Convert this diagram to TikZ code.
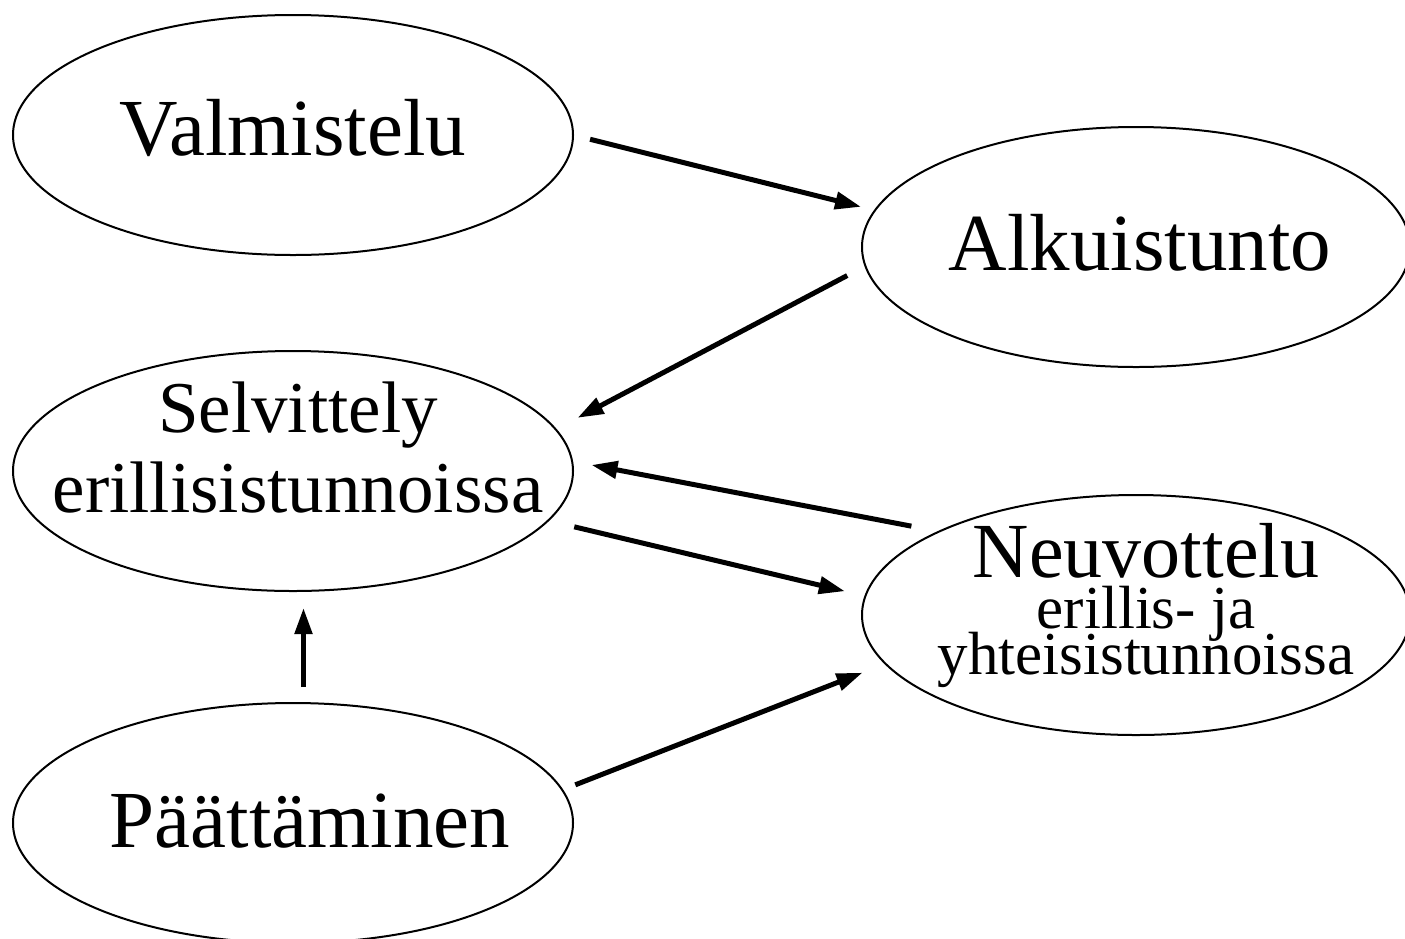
\documentclass[tikz,border=0pt]{standalone}
\usepackage{fontspec}
\setmainfont{Liberation Serif}
\usetikzlibrary{shapes.geometric, arrows.meta}

% tight lines for the small text
\newcommand{\tightlines}{\lineskiplimit -50pt\relax}

\begin{document}
\begin{tikzpicture}[x=1pt, y=-1pt]

% Define styles
\tikzstyle{phase}=[draw, ellipse, line width=2pt, inner sep=0pt, outer sep=0pt, minimum width=560pt, minimum height=240pt]
\tikzstyle{flow}=[line width=5pt, -{Triangle[length=26pt, width=17pt]}]
\tikzstyle{title}=[font=\fontsize{81pt}{81pt}\selectfont, inner sep=0pt, anchor=base]
\tikzstyle{twoline}=[font=\fontsize{73pt}{80pt}\selectfont, align=center, inner sep=0pt]
\tikzstyle{subtext}=[font=\fontsize{61pt}{46pt}\selectfont\tightlines, align=center, inner sep=0pt]

% Frame
\useasboundingbox (0,0) rectangle (1405,938);

% Phases
\node[phase] (valm) at (293,135) {};
\node[phase, minimum width=548pt] (alku) at (1136,247) {};
\node[phase] (selv) at (293,471) {};
\node[phase, minimum width=548pt] (neuv) at (1136,615) {};
\node[phase] (paat) at (293,823) {};

% Labels
\node[title] (valm-t) at ([yshift=-20pt]valm.center) {Valmistelu};
\node[title] (alku-t) at ([xshift=4pt, yshift=-23pt]alku.center) {Alkuistunto};
\node[twoline] (selv-t) at ([xshift=5pt, yshift=23pt]selv.center) {Selvittely\\erillisistunnoissa};
\node[subtext] (neuv-t) at ([xshift=10pt, yshift=9.5pt]neuv.center) {\raisebox{5pt}{\fontsize{78pt}{46pt}\selectfont Neuvottelu}\\erillis- ja\\yhteisistunnoissa};
\node[title] (paat-t) at ([xshift=17pt, yshift=-24pt]paat.center) {Päättäminen};

% Arrows: from/to/gap at start/gap at end
\foreach \from/\to/\s/\e in {valm.-0.8/alku.172/17.6pt/14.5pt,
    alku.-176.8/selv.9.7/20.6pt/24.8pt,
    neuv.157.5/selv.2.5/28.4pt/19.8pt,
    selv.-11.1/neuv.176/27pt/21.1pt,
    paat.85.7/selv.-85.7/16.1pt/17.1pt,
    paat.7.4/neuv.-169.2/14.1pt/24.7pt} {
  \draw[flow, shorten <=\s, shorten >=\e] (\from) -- (\to);
}

\end{tikzpicture}
\end{document}
